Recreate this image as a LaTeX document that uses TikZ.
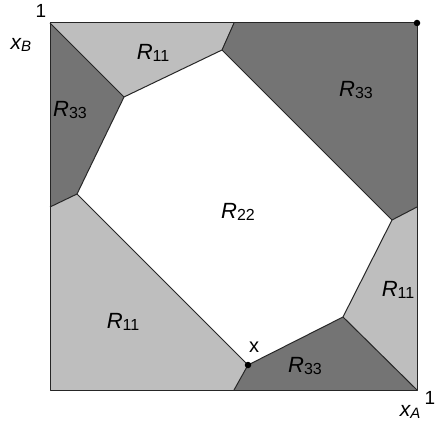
\documentclass[tikz,border=0pt]{standalone}
\usepackage{fontspec}
\setmainfont{Liberation Sans}
\definecolor{lightreg}{RGB}{190,190,190}
\definecolor{darkreg}{RGB}{116,116,116}
\newcommand{\regl}[2]{{\fontsize{22}{22}\selectfont\itshape #1}\raisebox{-0.45ex}{\fontsize{16}{16}\selectfont #2}}
\newcommand{\axl}[2]{{\fontsize{21}{21}\selectfont\itshape #1}\raisebox{-0.45ex}{\fontsize{15}{15}\selectfont\itshape #2}}
\begin{document}
\begin{tikzpicture}[x=1pt,y=-1pt,
  edge/.style={draw=black!85,line width=1pt,line join=round},
  lab/.style={inner sep=0pt},
  dotmark/.style={circle,fill=black,inner sep=0pt,minimum size=6.5pt}]
\useasboundingbox (0,0) rectangle (436,430);
% corners
\coordinate (BL) at (50,390);
\coordinate (TL) at (50,23);
\coordinate (TR) at (417,23);
\coordinate (BR) at (417,390);
% boundary points
\coordinate (T1) at (234,23);
\coordinate (L1) at (50,207);
\coordinate (R1) at (417,207);
\coordinate (B1) at (234,390);
% inner vertices
\coordinate (P1) at (124,97);
\coordinate (P2) at (222,50);
\coordinate (P3) at (392,220);
\coordinate (P4) at (343,317);
\coordinate (P5) at (248,365);
\coordinate (P6) at (77,194);
% regions
\fill[lightreg] (TL) -- (T1) -- (P2) -- (P1) -- cycle;
\fill[darkreg] (TL) -- (P1) -- (P6) -- (L1) -- cycle;
\fill[darkreg] (T1) -- (TR) -- (R1) -- (P3) -- (P2) -- cycle;
\fill[lightreg] (R1) -- (BR) -- (P4) -- (P3) -- cycle;
\fill[darkreg] (P4) -- (BR) -- (B1) -- (P5) -- cycle;
\fill[lightreg] (L1) -- (P6) -- (P5) -- (B1) -- (BL) -- cycle;
\fill[white] (P1) -- (P2) -- (P3) -- (P4) -- (P5) -- (P6) -- cycle;
% edges
\draw[edge] (TL) -- (P1) -- (P2) -- (T1);
\draw[edge] (P1) -- (P6) -- (L1);
\draw[edge] (P2) -- (P3) -- (R1);
\draw[edge] (P3) -- (P4) -- (BR);
\draw[edge] (P4) -- (P5) -- (B1);
\draw[edge] (P5) -- (P6);
\draw[edge] (TL) rectangle (BR);
% dots
\node[dotmark] (dtr) at (TR) {};
\node[dotmark] (dx) at (P5) {};
% region labels
\node[lab] (l1) at (153,53) {\regl{R}{11}};
\node[lab] (l2) at (70,110) {\regl{R}{33}};
\node[lab] (l3) at (356,90) {\regl{R}{33}};
\node[lab] (l4) at (238,212) {\regl{R}{22}};
\node[lab] (l5) at (398,290) {\regl{R}{11}};
\node[lab] (l6) at (123,322) {\regl{R}{11}};
\node[lab] (l7) at (305,366) {\regl{R}{33}};
% axis labels
\node[lab] (one1) at (41,11) {\fontsize{19}{19}\selectfont 1};
\node[lab] (xb) at (21,45) {\axl{x}{B}};
\node[lab,anchor=east] (one2) at (435.5,398) {\fontsize{19}{19}\selectfont 1};
\node[lab] (xa) at (410,412) {\axl{x}{A}};
\node[lab] (xl) at (254,347) {\fontsize{20}{20}\selectfont x};
\end{tikzpicture}
\end{document}
